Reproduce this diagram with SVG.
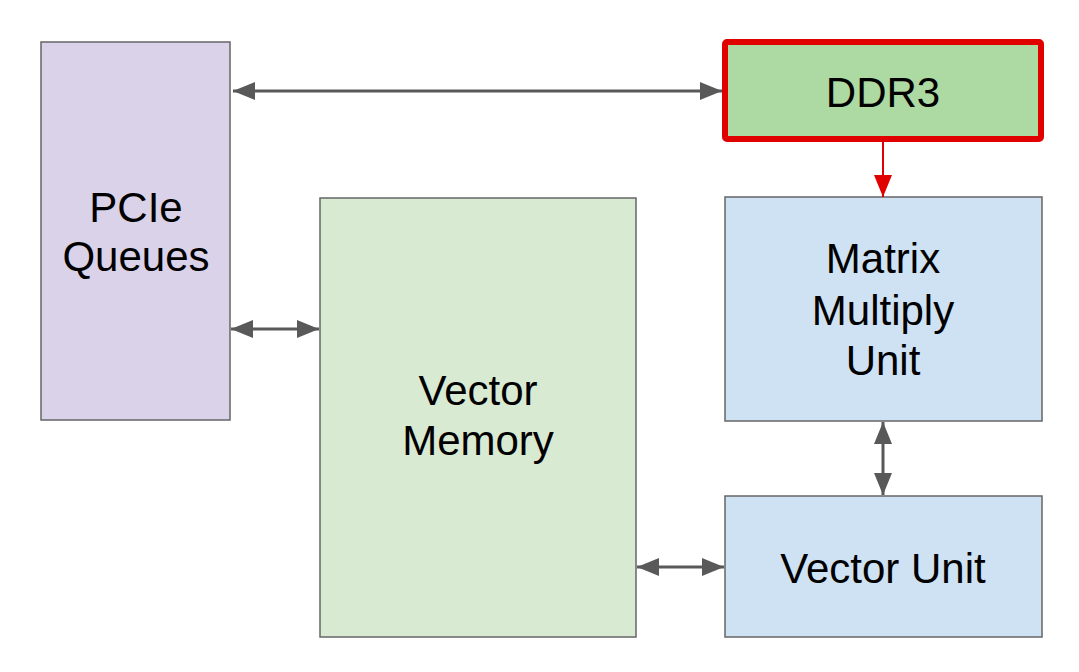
<svg xmlns="http://www.w3.org/2000/svg" width="1079" height="672" viewBox="0 0 1079 672">
<style>
.box{stroke:#666666;stroke-width:1.5}
.t{font-family:"Liberation Sans",Arial,sans-serif;font-size:42px;fill:#000;text-anchor:middle}
.c{stroke:#595959;stroke-width:3;fill:none}
</style>
<defs>
<marker id="ah" viewBox="0 0 22 18" refX="22" refY="9" markerWidth="22" markerHeight="18" markerUnits="userSpaceOnUse" orient="auto-start-reverse">
<path d="M0,0 L22,9 L0,18 Z" fill="#595959"/>
</marker>
<marker id="ahr" viewBox="0 0 22 18" refX="22" refY="9" markerWidth="22" markerHeight="18" markerUnits="userSpaceOnUse" orient="auto">
<path d="M0,0 L22,9 L0,18 Z" fill="#e00000"/>
</marker>
</defs>
<rect width="1079" height="672" fill="#ffffff"/>
<g id="pcie">
<rect class="box" x="41" y="42" width="189" height="378" fill="#d9d2e9"/>
<text class="t" x="136" y="222">PCIe</text>
<text class="t" x="136" y="271">Queues</text>
</g>
<g id="vecmem">
<rect class="box" x="320" y="198" width="316" height="439" fill="#d9ead3"/>
<text class="t" x="478" y="405">Vector</text>
<text class="t" x="478" y="455">Memory</text>
</g>
<g id="ddr3">
<rect x="725" y="42" width="316" height="97" rx="2" fill="#add9a2" stroke="#e00000" stroke-width="6"/>
<text class="t" x="883" y="107">DDR3</text>
</g>
<g id="mmu">
<rect class="box" x="725" y="197" width="317" height="224" fill="#cfe2f3"/>
<text class="t" x="883" y="273">Matrix</text>
<text class="t" x="883" y="325">Multiply</text>
<text class="t" x="883" y="375">Unit</text>
</g>
<g id="vu">
<rect class="box" x="725" y="496" width="317" height="141" fill="#cfe2f3"/>
<text class="t" x="883" y="583">Vector Unit</text>
</g>
<g id="connectors">
<line class="c" x1="233" y1="91" x2="722" y2="91" marker-start="url(#ah)" marker-end="url(#ah)"/>
<line x1="883" y1="142" x2="883" y2="197" stroke="#e00000" stroke-width="2" marker-end="url(#ahr)"/>
<line class="c" x1="231" y1="329" x2="319" y2="329" marker-start="url(#ah)" marker-end="url(#ah)"/>
<line class="c" x1="883" y1="422" x2="883" y2="495" marker-start="url(#ah)" marker-end="url(#ah)"/>
<line class="c" x1="637" y1="567" x2="724" y2="567" marker-start="url(#ah)" marker-end="url(#ah)"/>
</g>
</svg>
